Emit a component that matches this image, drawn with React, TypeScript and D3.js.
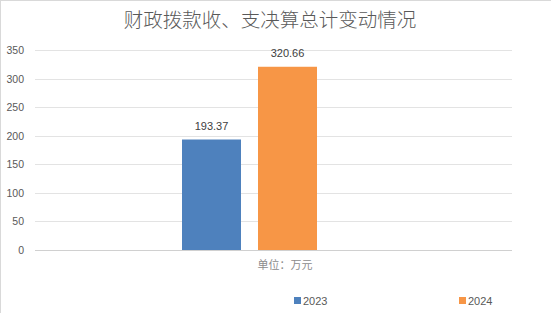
import React from "react";
import * as d3 from "d3";

const title = "财政拨款收、支决算总计变动情况";
const categories = ["单位：万元"];
const seriesNames = ["2023", "2024"];
const seriesValues = [193.37, 320.66];
const seriesColors = ["#4e81bd", "#f79646"];
const yTicks = [0, 50, 100, 150, 200, 250, 300, 350];

const W = 551;
const H = 313;

export default function App() {
  const plotLeft = 35;
  const plotRight = 512;
  const y = d3.scaleLinear().domain([0, 350]).range([250, 50]);
  const xCat = d3.scaleBand<string>().domain(categories).range([12, 487]);
  const center = xCat(categories[0])! + xCat.bandwidth() / 2;
  const xSer = d3
    .scaleBand<string>()
    .domain(seriesNames)
    .range([center - 67.5, center + 67.5])
    .paddingInner(17 / 76)
    .paddingOuter(0);
  const fmt = d3.format(".2f");
  const legendX = [294, 459];
  const numFont = "'Liberation Sans', sans-serif";
  return (
    <svg width={W} height={H} style={{ position: "absolute", left: 0, top: 0, background: "#fff" }}>
      <rect x={0} y={0} width={W} height={H} fill="#fff" />
      <line x1={0} x2={W} y1={0.5} y2={0.5} stroke="#d9d9d9" />
      <line x1={0.5} x2={0.5} y1={0} y2={H} stroke="#d9d9d9" />
      <text
        x={270}
        y={27}
        textAnchor="middle"
        fontSize={19.5}
        fill="#595959"
        fontFamily="'Noto Sans CJK SC', sans-serif"
        fontWeight={300}
      >
        {title}
      </text>
      {yTicks.map((t) => (
        <g key={t}>
          <line
            x1={plotLeft}
            x2={plotRight}
            y1={Math.round(y(t)) + 0.5}
            y2={Math.round(y(t)) + 0.5}
            stroke={t === 0 ? "#d0d0d0" : "#e3e3e3"}
          />
          <text x={24} y={y(t) + 4} textAnchor="end" fontSize={10.5} fill="#595959" fontFamily={numFont}>
            {t}
          </text>
        </g>
      ))}
      {seriesNames.map((s, i) => {
        const x0 = xSer(s)!;
        const bw = xSer.bandwidth();
        const v = seriesValues[i];
        return (
          <g key={s}>
            <rect x={x0} y={y(v)} width={bw} height={y(0) - y(v)} fill={seriesColors[i]} />
            <text
              x={x0 + bw / 2}
              y={y(v) - 10}
              textAnchor="middle"
              fontSize={11}
              fill="#404040"
              fontFamily={numFont}
            >
              {fmt(v)}
            </text>
          </g>
        );
      })}
      <text
        x={285}
        y={269}
        textAnchor="middle"
        fontSize={11}
        fill="#8c8c8c"
        fontFamily="'Noto Sans CJK SC', sans-serif"
      >
        {categories[0]}
      </text>
      {seriesNames.map((s, i) => (
        <g key={"lg" + s}>
          <rect x={legendX[i]} y={297} width={7} height={7} fill={seriesColors[i]} />
          <text x={legendX[i] + 9} y={305} fontSize={11} fill="#595959" fontFamily={numFont}>
            {s}
          </text>
        </g>
      ))}
    </svg>
  );
}
